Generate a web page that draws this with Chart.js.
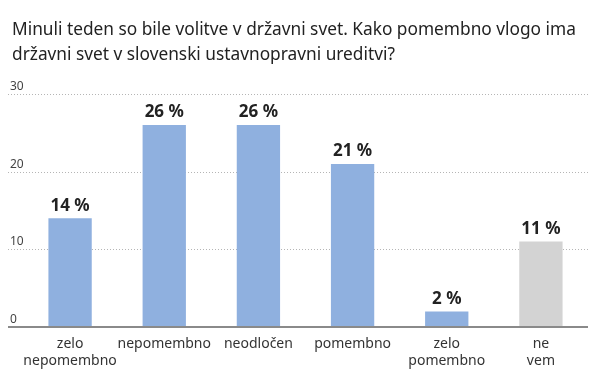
<!DOCTYPE html>
<html>
<head>
<meta charset="utf-8">
<script src="https://cdn.jsdelivr.net/npm/chart.js@4.4.0/dist/chart.umd.min.js"></script>
<style>
    body { margin: 0; background: #fff; }
    #wrap { position: relative; width: 599px; height: 388px; }
    #title {
        position: absolute; left: 12px; top: 16px;
        font-family: 'Noto Sans', sans-serif; font-size: 17.3px; line-height: 25px;
        color: #222;
    }
    canvas { position: absolute; left: 0; top: 0; }
</style>
</head>
<body>
<div id="wrap">
    <canvas id="chart" width="599" height="388"></canvas>
    <div id="title">Minuli teden so bile volitve v državni svet. Kako pomembno vlogo ima<br>državni svet v slovenski ustavnopravni ureditvi?</div>
</div>
<script>
const categories = [['zelo', 'nepomembno'], 'nepomembno', 'neodločen', 'pomembno', ['zelo', 'pomembno'], ['ne', 'vem']];
const values = [14, 26, 26, 21, 2, 11];
const barColors = ['#8fb0df', '#8fb0df', '#8fb0df', '#8fb0df', '#8fb0df', '#d3d3d3'];
const yTicks = [0, 10, 20, 30];

const FONT = "'Noto Sans', sans-serif";

// grid lines, y labels and the base line, drawn from the left edge like the original
const gridPlugin = {
    id: 'grid',
    beforeDatasetsDraw(chart) {
        const ctx = chart.ctx;
        const y = chart.scales.y;
        const right = chart.chartArea.right;
        ctx.save();
        ctx.font = '12px ' + FONT;
        ctx.fillStyle = '#444';
        ctx.textBaseline = 'bottom';
        yTicks.forEach(t => {
            const py = Math.round(y.getPixelForValue(t)) + 0.5;
            if (t > 0) {
                ctx.strokeStyle = '#b5b5b5';
                ctx.lineWidth = 1;
                ctx.setLineDash([1, 2]);
                ctx.beginPath();
                ctx.moveTo(8, py);
                ctx.lineTo(right, py);
                ctx.stroke();
            }
            ctx.fillText(String(t), 10, py - 2);
        });
        ctx.restore();
    },
    afterDatasetsDraw(chart) {
        const ctx = chart.ctx;
        const py = chart.scales.y.getPixelForValue(0);
        ctx.save();
        ctx.strokeStyle = '#8a8a8a';
        ctx.lineWidth = 2;
        ctx.beginPath();
        ctx.moveTo(8, py);
        ctx.lineTo(chart.chartArea.right, py);
        ctx.stroke();
        ctx.restore();
    }
};

const valueLabels = {
    id: 'valueLabels',
    afterDatasetsDraw(chart) {
        const ctx = chart.ctx;
        const meta = chart.getDatasetMeta(0);
        ctx.save();
        ctx.font = 'bold 17px ' + FONT;
        ctx.fillStyle = '#222';
        ctx.textAlign = 'center';
        ctx.textBaseline = 'bottom';
        meta.data.forEach((bar, i) => {
            ctx.fillText(values[i] + ' %', bar.x, bar.y - 4);
        });
        ctx.restore();
    }
};

new Chart(document.getElementById('chart'), {
    type: 'bar',
    data: {
        labels: categories,
        datasets: [{
            data: values,
            backgroundColor: barColors,
            borderWidth: 0,
            categoryPercentage: 1,
            barPercentage: 0.46
        }]
    },
    options: {
        responsive: false,
        animation: false,
        layout: { padding: { left: 23, right: 11, top: 94, bottom: 0 } },
        plugins: {
            legend: { display: false },
            tooltip: { enabled: false }
        },
        scales: {
            y: {
                display: false,
                min: 0,
                max: 30,
                ticks: { stepSize: 10 }
            },
            x: {
                grid: { display: false },
                border: { display: false },
                ticks: {
                    font: { family: FONT, size: 14 },
                    color: '#333',
                    maxRotation: 0,
                    autoSkip: false,
                    padding: 1
                },
                afterFit(scale) { scale.height = 61; }
            }
        }
    },
    plugins: [gridPlugin, valueLabels]
});
</script>
</body>
</html>
